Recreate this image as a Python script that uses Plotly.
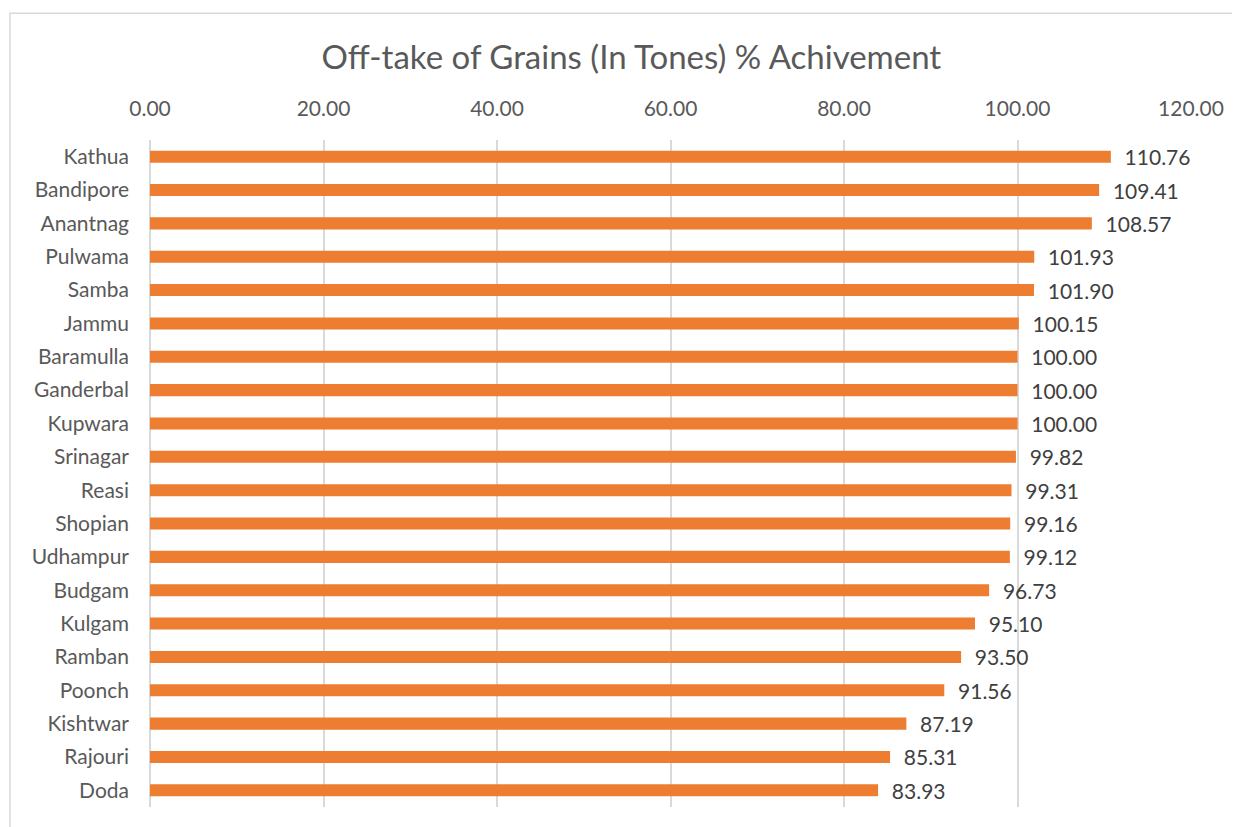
import plotly.graph_objects as go

districts = ["Kathua", "Bandipore", "Anantnag", "Pulwama", "Samba", "Jammu",
             "Baramulla", "Ganderbal", "Kupwara", "Srinagar", "Reasi", "Shopian",
             "Udhampur", "Budgam", "Kulgam", "Ramban", "Poonch", "Kishtwar",
             "Rajouri", "Doda"]
achievement = [110.76, 109.41, 108.57, 101.93, 101.90, 100.15, 100.00, 100.00,
               100.00, 99.82, 99.31, 99.16, 99.12, 96.73, 95.10, 93.50, 91.56,
               87.19, 85.31, 83.93]
tick_vals = [0, 20, 40, 60, 80, 100, 120]

FONT = "Lato"
GRID = "#d9d9d9"

fig = go.Figure()
fig.add_trace(go.Bar(
    x=achievement, y=districts, orientation="h",
    marker_color="#ED7D31", marker_line_width=0,
    width=0.36,
    text=[f"  {v:.2f}" for v in achievement],
    textposition="outside", cliponaxis=False, constraintext="none",
    textfont=dict(family=FONT, size=21, color="#404040"),
))

# page body adds an 8px margin, so the figure is sized 8px smaller
fig.update_layout(
    width=1232, height=819,
    paper_bgcolor="white", plot_bgcolor="white",
    margin=dict(l=142, r=49, t=132, b=20),
    title=dict(text="Off-take of Grains (In Tones) % Achivement",
               x=0.506, xref="container", xanchor="center",
               y=0.94, yanchor="middle",
               font=dict(family=FONT, size=33, color="#595959")),
    showlegend=False,
    shapes=[dict(type="rect", xref="paper", yref="paper",
                 x0=-0.1345, x1=1.2, y0=-0.2, y1=1.19,
                 line=dict(color=GRID, width=1.5), layer="below")],
)
fig.update_xaxes(
    side="top", range=[0, 120], tickvals=tick_vals, tickformat=".2f",
    showgrid=True, gridcolor=GRID, gridwidth=1.5,
    zeroline=True, zerolinecolor=GRID, zerolinewidth=1.5,
    showline=False, ticks="", ticklabelstandoff=19,
    tickfont=dict(family=FONT, size=21, color="#595959"),
)
fig.update_yaxes(
    autorange="reversed", showgrid=False, zeroline=False, showline=False,
    ticks="", ticklabelstandoff=20,
    tickfont=dict(family=FONT, size=21, color="#595959"),
)

fig.write_html("out.html")
